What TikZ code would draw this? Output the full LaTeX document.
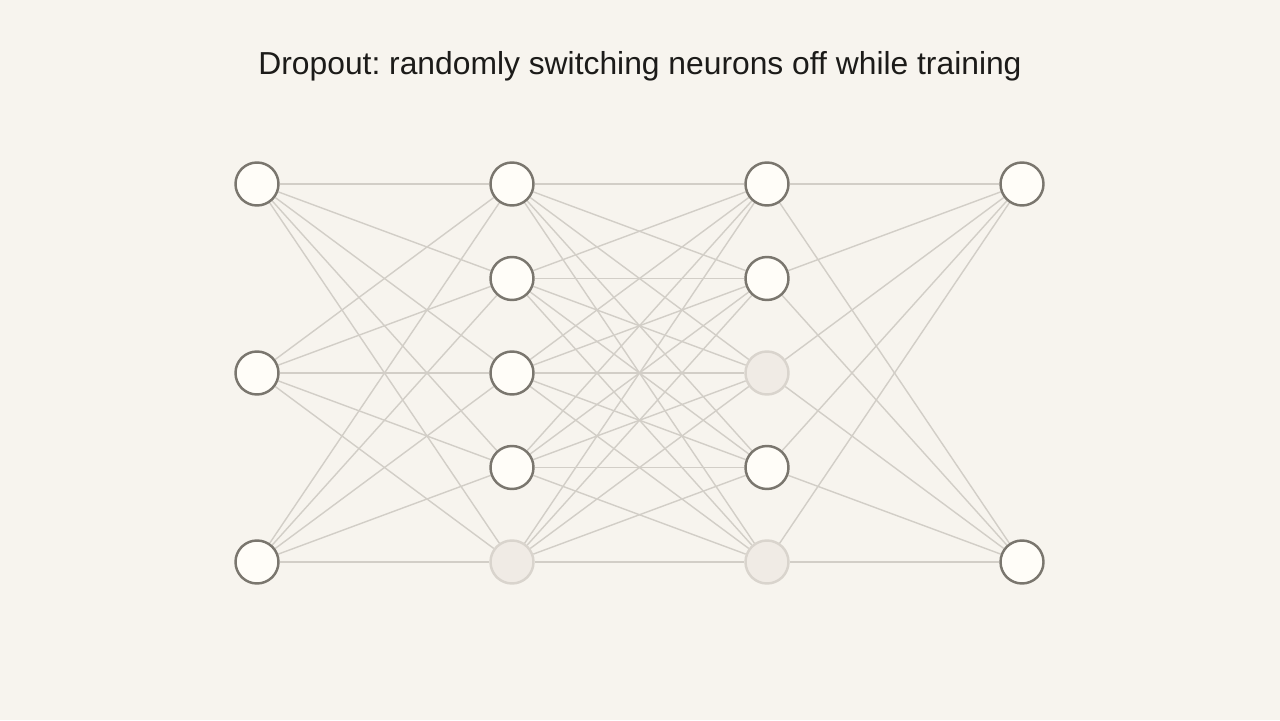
\documentclass[tikz,border=0pt]{standalone}
\usepackage{fontspec}
\setmainfont{Liberation Sans}
\usepackage{tikz}
\usetikzlibrary{backgrounds}
\usepackage{xcolor}
\definecolor{paper}{HTML}{F7F4EE}
\definecolor{ink}{HTML}{1C1B19}
\definecolor{rim}{HTML}{7A766E}
\definecolor{core}{HTML}{FFFDF8}
\definecolor{offcore}{HTML}{F0EBE5}
\definecolor{offrim}{HTML}{D9D4CD}
\definecolor{wire}{HTML}{D2CEC7}
\tikzstyle{neuron}=[circle, draw=rim, fill=core, line width=1.4pt, minimum size=0.86cm, inner sep=0pt]
\tikzstyle{dropped}=[neuron, draw=offrim, fill=offcore]
\tikzstyle{link}=[draw=wire, line width=0.8pt]
\frenchspacing

\begin{document}
\begin{tikzpicture}
    \useasboundingbox (0,0) rectangle (25.6,14.4);
    \node (title)[text=ink] at (12.8,13.08) {\fontsize{18.1}{21}\selectfont Dropout: randomly switching neurons off while training};

    % input layer
    \foreach \y in {1,3,5}
        \node (a\y)[neuron] at (5.14,{12.61-1.89*\y}) {};
    % first hidden layer
    \foreach \y in {1,2,3,4}
        \node (b\y)[neuron] at (10.24,{12.61-1.89*\y}) {};
    \node (b5)[dropped] at (10.24,{12.61-1.89*5}) {};
    % second hidden layer
    \foreach \y in {1,2,4}
        \node (c\y)[neuron] at (15.34,{12.61-1.89*\y}) {};
    \foreach \y in {3,5}
        \node (c\y)[dropped] at (15.34,{12.61-1.89*\y}) {};
    % output layer
    \foreach \y in {1,5}
        \node (d\y)[neuron] at (20.44,{12.61-1.89*\y}) {};

    \begin{pgfonlayer}{background}
        \fill [paper] (0,0) rectangle (25.6,14.4);
        \foreach \i in {1,3,5}
            \foreach \j in {1,...,5}
                \draw [link] (a\i) -- (b\j);
        \foreach \i in {1,...,5}
            \foreach \j in {1,...,5}
                \draw [link] (b\i) -- (c\j);
        \foreach \i in {1,...,5}
            \foreach \j in {1,5}
                \draw [link] (c\i) -- (d\j);
    \end{pgfonlayer}
\end{tikzpicture}
\end{document}
